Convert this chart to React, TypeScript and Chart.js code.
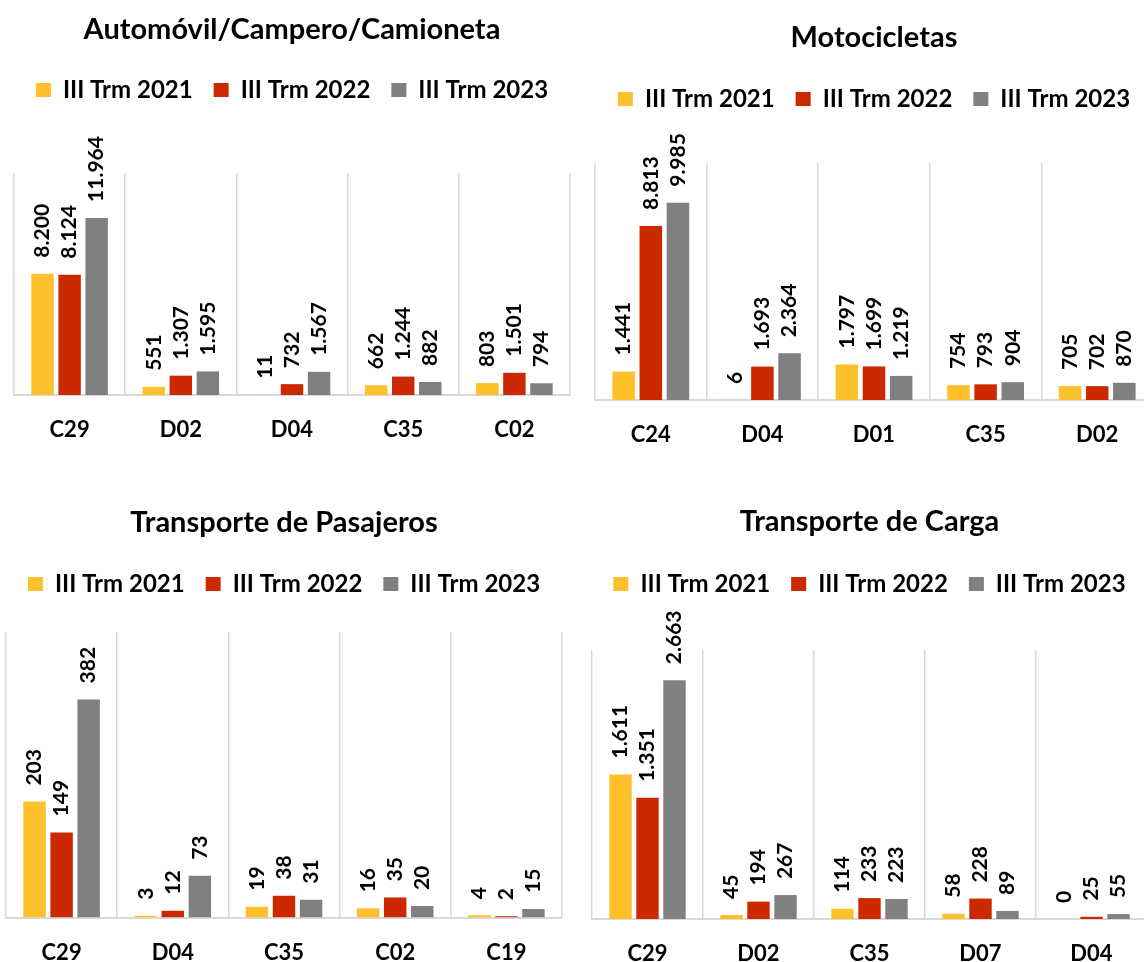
import React, { useEffect, useRef } from "react";
import { Chart, registerables } from "chart.js";

Chart.register(...registerables);

const seriesNames = ["III Trm 2021", "III Trm 2022", "III Trm 2023"];
const seriesColors = ["#FFC12B", "#CC2900", "#808080"];

const autoTitle = "Automóvil/Campero/Camioneta";
const autoCats = ["C29", "D02", "D04", "C35", "C02"];
const auto2021 = [8200, 551, 11, 662, 803];
const auto2022 = [8124, 1307, 732, 1244, 1501];
const auto2023 = [11964, 1595, 1567, 882, 794];

const motoTitle = "Motocicletas";
const motoCats = ["C24", "D04", "D01", "C35", "D02"];
const moto2021 = [1441, 6, 1797, 754, 705];
const moto2022 = [8813, 1693, 1699, 793, 702];
const moto2023 = [9985, 2364, 1219, 904, 870];

const pasTitle = "Transporte de Pasajeros";
const pasCats = ["C29", "D04", "C35", "C02", "C19"];
const pas2021 = [203, 3, 19, 16, 4];
const pas2022 = [149, 12, 38, 35, 2];
const pas2023 = [382, 73, 31, 20, 15];

const cargaTitle = "Transporte de Carga";
const cargaCats = ["C29", "D02", "C35", "D07", "D04"];
const carga2021 = [1611, 45, 114, 58, 0];
const carga2022 = [1351, 194, 233, 228, 25];
const carga2023 = [2663, 267, 223, 89, 55];

const FONT = "Lato";

function fmt(v: number): string {
  return String(v).replace(/\B(?=(\d{3})+(?!\d))/g, ".");
}

const valueLabels = {
  id: "valueLabels",
  afterDatasetsDraw(chart: any) {
    const ctx = chart.ctx;
    ctx.save();
    ctx.font = `bold 21px ${FONT}`;
    ctx.fillStyle = "#000000";
    ctx.textAlign = "left";
    ctx.textBaseline = "middle";
    chart.data.datasets.forEach((ds: any, i: number) => {
      const meta = chart.getDatasetMeta(i);
      meta.data.forEach((bar: any, j: number) => {
        const v = ds.data[j];
        ctx.save();
        ctx.translate(bar.x, bar.y - 16);
        ctx.rotate(-Math.PI / 2);
        ctx.fillText(fmt(v), 0, 0);
        ctx.restore();
      });
    });
    ctx.restore();
  },
};

type Spec = {
  left: number;
  top: number;
  width: number;
  height: number;
  title: string;
  cats: string[];
  s1: number[];
  s2: number[];
  s3: number[];
  max: number;
  padL: number;
  padR: number;
  titleTop: number;
  titleBottom: number;
  spacer: number;
  axisH: number;
};

function BarPanel({ spec }: { spec: Spec }) {
  const ref = useRef<HTMLCanvasElement | null>(null);
  useEffect(() => {
    if (!ref.current) return;
    const chart = new Chart(ref.current, {
      type: "bar",
      data: {
        labels: spec.cats,
        datasets: [spec.s1, spec.s2, spec.s3].map((d, i) => ({
          label: seriesNames[i],
          data: d,
          backgroundColor: seriesColors[i],
          borderWidth: 0,
          categoryPercentage: 0.73,
          barPercentage: 0.83,
        })),
      },
      options: {
        responsive: false,
        animation: false,
        layout: { padding: { left: spec.padL, right: spec.padR, top: 0, bottom: 0 } },
        plugins: {
          title: {
            display: true,
            text: spec.title,
            color: "#000000",
            font: { family: FONT, size: 29, weight: "bold", lineHeight: 1.2 },
            padding: { top: spec.titleTop, bottom: spec.titleBottom },
          },
          legend: {
            display: true,
            position: "top",
            labels: {
              color: "#000000",
              font: { family: FONT, size: 24, weight: "bold" },
              boxWidth: 15,
              boxHeight: 14,
              padding: 21,
            },
          },
          subtitle: {
            display: true,
            text: "",
            weight: 100,
            font: { size: 1, lineHeight: 0 },
            padding: { top: spec.spacer, bottom: 0 },
          } as any,
          tooltip: { enabled: false },
        },
        scales: {
          x: {
            grid: { display: true, color: "#D9D9D9", lineWidth: 1.5, drawTicks: false, offset: true },
            border: { display: true, color: "#D9D9D9", width: 2 },
            ticks: {
              color: "#000000",
              font: { family: FONT, size: 22, weight: "bold", lineHeight: 1.2 },
              padding: 22,
            },
            afterFit: (scale: any) => {
              scale.height = spec.axisH;
            },
          },
          y: {
            display: false,
            min: 0,
            max: spec.max,
          },
        },
      },
      plugins: [valueLabels],
    });
    return () => chart.destroy();
  }, [spec]);
  return (
    <canvas
      ref={ref}
      width={spec.width}
      height={spec.height}
      style={{ position: "absolute", left: spec.left, top: spec.top, width: spec.width, height: spec.height }}
    />
  );
}

const specs: Spec[] = [
  {
    left: 0, top: 0, width: 580, height: 445,
    title: autoTitle, cats: autoCats, s1: auto2021, s2: auto2022, s3: auto2023, max: 15000,
    padL: 14, padR: 10, titleTop: 12.6, titleBottom: 9.6, spacer: 61, axisH: 50,
  },
  {
    left: 580, top: 0, width: 590, height: 450,
    title: motoTitle, cats: motoCats, s1: moto2021, s2: moto2022, s3: moto2023, max: 12000,
    padL: 15, padR: 17, titleTop: 20.6, titleBottom: 10.6, spacer: 42, axisH: 50,
  },
  {
    left: 0, top: 470, width: 580, height: 492,
    title: pasTitle, cats: pasCats, s1: pas2021, s2: pas2022, s3: pas2023, max: 500,
    padL: 6, padR: 18, titleTop: 35.6, titleBottom: 10.6, spacer: 26, axisH: 44.5,
  },
  {
    left: 580, top: 470, width: 590, height: 492,
    title: cargaTitle, cats: cargaCats, s1: carga2021, s2: carga2022, s3: carga2023, max: 3000,
    padL: 12, padR: 23, titleTop: 34.6, titleBottom: 11.6, spacer: 44, axisH: 43,
  },
];

export default function App() {
  return (
    <div
      style={{
        position: "fixed",
        left: 0,
        top: 0,
        width: 1144,
        height: 962,
        overflow: "hidden",
        background: "#FFFFFF",
      }}
    >
      {specs.map((s, i) => (
        <BarPanel key={i} spec={s} />
      ))}
    </div>
  );
}
